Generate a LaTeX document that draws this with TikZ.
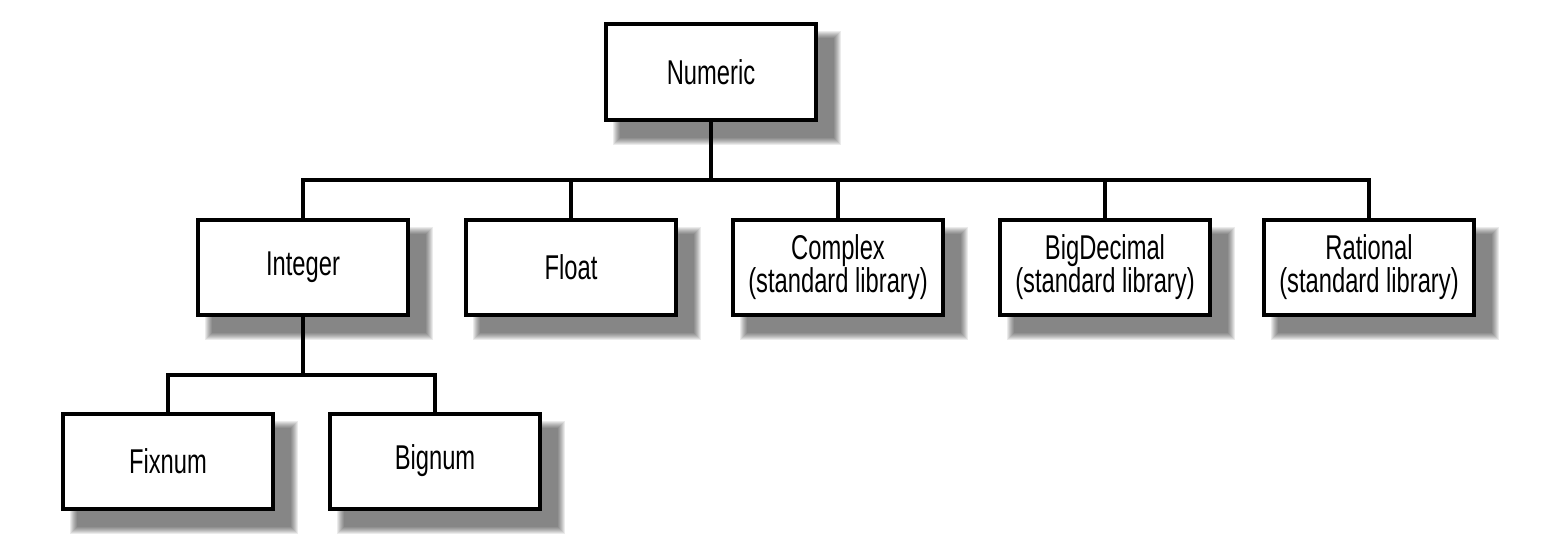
\documentclass[tikz,border=0pt]{standalone}
\usepackage{fontspec}
\setmainfont{Liberation Sans}[FakeStretch=0.69]
\usetikzlibrary{calc,backgrounds}
\begin{document}
\begin{tikzpicture}[x=0.5pt,y=-0.5pt,
        cls/.style={draw,fill=white,line width=2pt,minimum width=105pt,minimum height=47.5pt,
            align=center,inner sep=0pt,font=\fontsize{17.2}{16.8}\selectfont},
        wire/.style={line width=2pt,line join=miter}]
        \useasboundingbox (0,0) rectangle (1556,556);
        % root
        \node[cls] (numeric) at (711,72) {Numeric};
        % second row
        \foreach[count=\i] \n/\x/\t in {integer/303/Integer,float/571/Float,
            complex/838/{Complex\\(standard library)},bigdecimal/1105/{BigDecimal\\(standard library)},
            rational/1369/{Rational\\(standard library)}} {
            \node[cls] (\n) at (\x,267) {\t};
        }
        % third row
        \node[cls] (fixnum) at (168,461) {Fixnum};
        \node[cls] (bignum) at (435,461) {Bignum};
        % connectors
        \coordinate (bus) at (711,180);
        \coordinate (subbus) at (303,375);
        \draw[wire] (numeric) -- (bus);
        \draw[wire] (integer.north) |- (bus) -| (rational.north);
        \foreach \n in {float,complex,bigdecimal} {
            \draw[wire] (\n.north) -- (\n.north |- bus);
        }
        \draw[wire] (integer) -- (subbus);
        \draw[wire] (fixnum.north) |- (subbus) -| (bignum.north);
        % shadows
        \begin{pgfonlayer}{background}
        \foreach \n in {numeric,integer,float,complex,bigdecimal,rational,fixnum,bignum} {
            \foreach \k in {0,...,7} {
                \fill[black,opacity=0.08] ($(\n.north west)+(16-\k,16-\k)$) rectangle ($(\n.south east)+(16+\k,16+\k)$);
            }
        }
        \end{pgfonlayer}
    \end{tikzpicture}
\end{document}
